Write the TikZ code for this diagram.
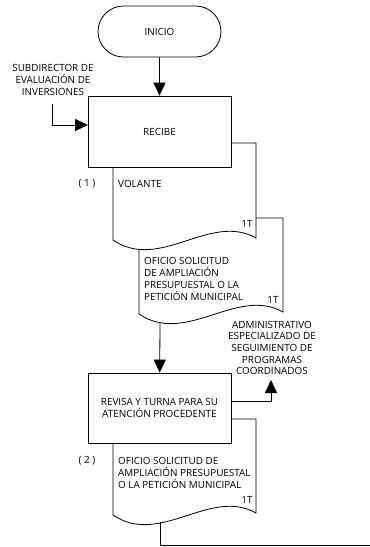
\documentclass[tikz,border=0pt]{standalone}
\usepackage{fontspec}
\setmainfont{Open Sans}
\usetikzlibrary{arrows.meta,positioning,shapes.misc}
\tikzset{
  >={Triangle[length=13pt,width=12pt]},
  % cajas
  term/.style={rounded rectangle,draw=black,fill=white,line width=0.8pt,
               minimum width=123pt,minimum height=51pt,inner sep=0pt},
  caja/.style={rectangle,draw=black,fill=white,line width=0.8pt,
               minimum width=143pt,minimum height=71pt,inner sep=0pt,align=center},
  doc/.style={draw=black,fill=white,line width=0.8pt},
  flecha/.style={->,draw=black,line width=0.8pt},
  linea/.style={draw=black,line width=0.8pt},
  % textos
  txt/.style={inner sep=0pt,font=\fontsize{9.9}{12}\selectfont,align=left},
  ctxt/.style={inner sep=0pt,font=\fontsize{9.9}{11.7}\selectfont,align=center},
}
\begin{document}
\begin{tikzpicture}[x=1pt,y=-1pt]
  \useasboundingbox (0,0) rectangle (370,547);
  % documentos
  \draw[doc] (139,218) -- (283,218) -- (283,312) .. controls (237,286) and (186,346) .. (139,314) -- cycle;
  \draw[doc] (113,143) -- (256,143) -- (256,238) .. controls (210,212) and (160,272) .. (113,240) -- cycle;
  \draw[doc] (113,419) -- (256,419) -- (256,513) .. controls (210,487) and (160,547) .. (113,515) -- cycle;
  % nodos
  \node[term] (inicio) at (159.5,31.5) {\fontsize{9.9}{12}\selectfont INICIO};
  \node[caja] (recibe) at (159.5,131.5) {\fontsize{9.9}{12}\selectfont RECIBE};
  \node[caja,minimum height=70pt] (revisa) at (159.5,408) {\fontsize{9.9}{12}\selectfont REVISA Y TURNA PARA SU\\ATENCIÓN PROCEDENTE};
  \node[ctxt] (subdir) at (53,80) {SUBDIRECTOR DE\\EVALUACIÓN DE\\INVERSIONES};
  \node[ctxt] (admin) at (272,348) {ADMINISTRATIVO\\ESPECIALIZADO DE\\SEGUIMIENTO DE\\PROGRAMAS\\COORDINADOS};
  \node[txt] (n1) at (87,184) {( 1 )};
  \node[txt,anchor=west] (volante) at (118,184) {VOLANTE};
  \node[txt] (t1) at (247,224) {1T};
  \node[txt,anchor=west] (oficio) at (144,278.5) {OFICIO SOLICITUD\\DE AMPLIACIÓN\\PRESUPUESTAL O LA\\PETICIÓN MUNICIPAL};
  \node[txt] (t2) at (273,300) {1T};
  \node[txt] (n2) at (87,461) {( 2 )};
  \node[txt,anchor=west] (oficiob) at (118,473) {OFICIO SOLICITUD DE\\AMPLIACIÓN PRESUPUESTAL\\O LA PETICIÓN MUNICIPAL};
  \node[txt] (t3) at (247,500) {1T};
  % puntos
  \coordinate (entrada) at (52,104);
  \coordinate (entR) at (88,125);
  \coordinate (doc2b) at (160,322);
  \coordinate (adminTip) at (271,380);
  \coordinate (doc3b) at (160,522);
  \coordinate (salida) at (370,545);
  % conectores
  \draw[flecha] (inicio) -- (recibe);
  \draw[flecha] (entrada) |- (entR);
  \draw[flecha] (doc2b) -- (revisa);
  \draw[flecha] ([yshift=7pt]revisa.east) -| (adminTip);
  \draw[linea] (doc3b) |- (salida);
\end{tikzpicture}
\end{document}
